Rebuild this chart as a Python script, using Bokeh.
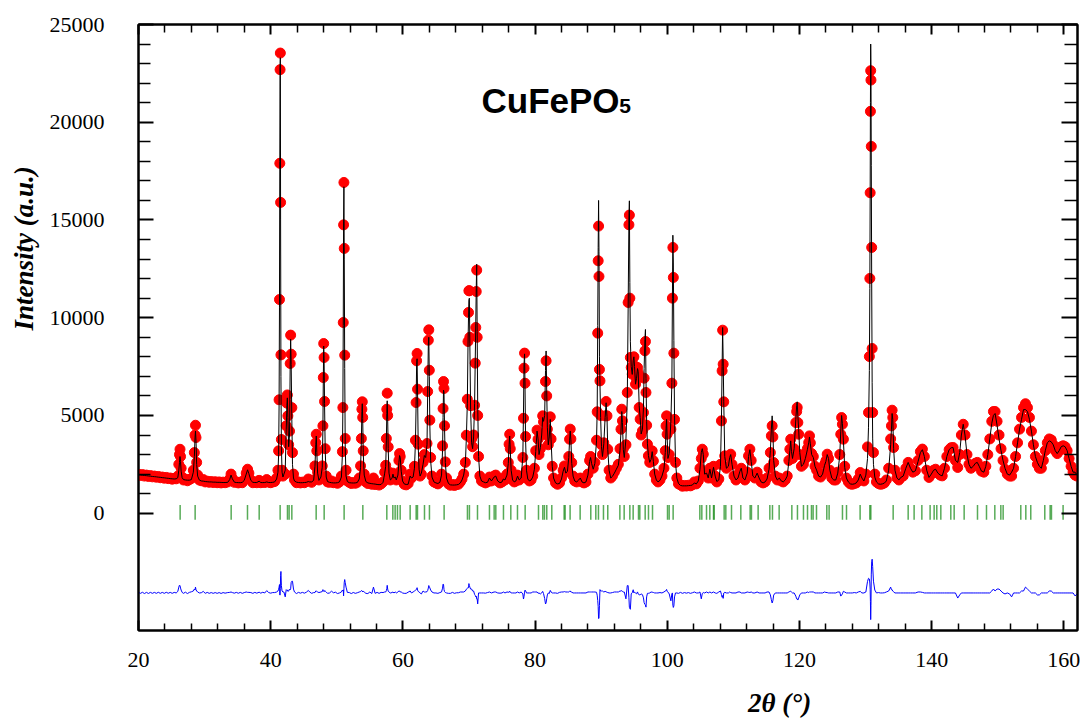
import numpy as np
from bokeh.plotting import figure
from bokeh.models import LinearAxis, FixedTicker, Range1d, Label, Title, CustomLabelingPolicy
from bokeh.embed import file_html
from bokeh.resources import INLINE

# ---- data: (2theta, I_obs, I_calc) ----
scan_20_55 = [
    (20.0, 1990, 1960), (20.3, 1930, 1950), (20.6, 1975, 1940), (20.9, 1900, 1930), (21.2, 1950, 1920),
    (21.5, 1880, 1905), (21.8, 1925, 1895), (22.1, 1860, 1880), (22.4, 1900, 1870), (22.7, 1840, 1860),
    (23.0, 1880, 1845), (23.3, 1815, 1835), (23.6, 1850, 1820), (23.9, 1790, 1810), (24.2, 1830, 1795),
    (24.5, 1770, 1785), (24.8, 1800, 1770), (25.1, 1740, 1760), (25.4, 1780, 1750), (25.7, 1760, 1760),
    (25.95, 1900, 1820), (26.1, 2500, 2200), (26.2, 3000, 2600), (26.28, 3270, 2900), (26.36, 2900, 2650),
    (26.45, 2300, 2150), (26.6, 1850, 1820), (26.8, 1700, 1720), (27.1, 1740, 1700), (27.4, 1660, 1690),
    (27.7, 1720, 1690), (28.0, 1780, 1720), (28.3, 2200, 2100), (28.45, 3100, 2900), (28.55, 4000, 3850),
    (28.62, 4500, 4200), (28.7, 3870, 3700), (28.8, 2600, 2500), (28.95, 1950, 1900), (29.2, 1700, 1700),
    (29.5, 1660, 1650), (29.8, 1720, 1640), (30.1, 1600, 1620), (30.4, 1640, 1610), (30.7, 1580, 1600),
    (31.0, 1620, 1600), (31.3, 1570, 1590), (31.6, 1610, 1590), (31.9, 1560, 1580), (32.2, 1600, 1580),
    (32.5, 1550, 1575), (32.8, 1590, 1570), (33.1, 1560, 1570), (33.5, 1600, 1580), (33.8, 1750, 1720),
    (34.0, 2000, 1950), (34.2, 1780, 1760), (34.5, 1580, 1590), (34.8, 1600, 1570), (35.1, 1550, 1565),
    (35.4, 1590, 1560), (35.7, 1560, 1580), (36.0, 1700, 1680), (36.3, 2050, 2000), (36.5, 2250, 2220),
    (36.7, 2050, 2020), (37.0, 1700, 1680), (37.3, 1560, 1580), (37.6, 1600, 1570), (37.9, 1560, 1570),
    (38.25, 1680, 1640), (38.5, 1560, 1570), (38.8, 1600, 1565), (39.1, 1570, 1570), (39.4, 1720, 1600),
    (39.7, 1590, 1570), (40.0, 1560, 1570), (40.3, 1600, 1580), (40.6, 1620, 1600), (40.9, 1800, 1750),
    (41.1, 2200, 2100), (41.2, 3190, 3000), (41.27, 5800, 5500), (41.33, 10930, 10500), (41.38, 17900, 18000),
    (41.42, 22690, 22800), (41.46, 23540, 23300), (41.5, 15900, 15000), (41.55, 8100, 7000), (41.62, 3770, 3400),
    (41.72, 2200, 2100), (41.85, 1900, 1850), (42.0, 2050, 2000), (42.2, 2000, 2200), (42.35, 4470, 4300),
    (42.45, 5630, 5500), (42.52, 6050, 5900), (42.6, 4980, 4900), (42.72, 3500, 3400), (42.85, 4200, 4000),
    (42.95, 7660, 7500), (43.02, 9110, 8900), (43.1, 8135, 7600), (43.2, 5400, 4800), (43.3, 3100, 2500),
    (43.45, 2000, 1800), (43.6, 1700, 1650), (43.9, 1560, 1590), (44.2, 1600, 1570), (44.5, 1550, 1560),
    (44.8, 1590, 1560), (45.1, 1560, 1570), (45.4, 1620, 1580), (45.7, 1750, 1620), (45.9, 1650, 1600),
    (46.2, 1580, 1600), (46.5, 1700, 1680), (46.7, 2420, 2400), (46.82, 3600, 3500), (46.9, 4040, 3950),
    (46.98, 3190, 3100), (47.1, 2100, 2050), (47.3, 1700, 1680), (47.6, 1900, 1850), (47.8, 2420, 2350),
    (47.9, 4470, 4300), (47.96, 6940, 6800), (48.02, 8680, 8550), (48.08, 7965, 7900), (48.15, 5715, 5600),
    (48.25, 3300, 3200), (48.4, 1900, 1850), (48.6, 1600, 1620), (48.9, 1580, 1580), (49.2, 1650, 1560),
    (49.5, 1560, 1550), (49.8, 1590, 1550), (50.1, 1530, 1560), (50.4, 1600, 1600), (50.7, 1900, 1850),
    (50.85, 3150, 3000), (50.92, 5405, 5300), (50.98, 9755, 9600), (51.03, 14750, 14900), (51.08, 16920, 16700),
    (51.13, 13545, 13000), (51.2, 8085, 7400), (51.28, 3820, 3300), (51.4, 2200, 1900), (51.6, 1650, 1620),
    (51.9, 1580, 1560), (52.2, 1520, 1550), (52.5, 1570, 1545), (52.8, 1530, 1550), (53.1, 1580, 1570),
    (53.4, 1800, 1750), (53.6, 2420, 2350), (53.72, 3820, 3700), (53.8, 5320, 5200), (53.86, 5700, 5600),
    (53.92, 4900, 4850), (54.0, 3190, 3100), (54.15, 2000, 1950), (54.4, 1600, 1620), (54.7, 1520, 1550),
]

scan_55_91 = [
    (55.0, 1580, 1530), (55.3, 1480, 1510), (55.55, 1800, 1500), (55.8, 1470, 1490), (56.1, 1500, 1470),
    (56.4, 1440, 1460), (56.7, 1500, 1470), (57.0, 1600, 1580), (57.25, 2100, 2050), (57.4, 2450, 2400),
    (57.5, 3820, 3700), (57.57, 5320, 5100), (57.63, 6140, 5750), (57.7, 5000, 4800), (57.78, 3390, 3300),
    (57.9, 2100, 2050), (58.1, 1700, 1700), (58.35, 1800, 1780), (58.5, 2050, 2000), (58.65, 1800, 1800),
    (58.85, 1900, 1850), (59.0, 1700, 1700), (59.25, 2000, 1950), (59.4, 2700, 2600), (59.5, 3050, 2950),
    (59.6, 2900, 2850), (59.75, 2200, 2150), (59.95, 1650, 1650), (60.2, 1480, 1500), (60.5, 1450, 1470),
    (60.8, 1520, 1480), (61.1, 2000, 1900), (61.3, 1800, 1800), (61.55, 1900, 1850), (61.75, 2400, 2300),
    (61.9, 3735, 3600), (62.0, 5660, 5500), (62.08, 7795, 7600), (62.15, 8170, 7900), (62.22, 6345, 6200),
    (62.32, 3530, 3450), (62.45, 2300, 2250), (62.6, 1900, 1900), (62.8, 2000, 2050), (63.05, 2600, 2500),
    (63.25, 3000, 2950), (63.45, 2900, 2850), (63.65, 3565, 3500), (63.75, 6225, 6100), (63.85, 8850, 8600),
    (63.92, 9380, 9000), (64.0, 7315, 7000), (64.08, 4760, 4500), (64.2, 2850, 2700), (64.4, 1900, 1850),
    (64.7, 1600, 1600), (65.0, 1550, 1550), (65.3, 1500, 1520), (65.6, 1600, 1580), (65.85, 2000, 1950),
    (66.0, 3445, 3200), (66.08, 5355, 4900), (66.15, 6737, 6300), (66.22, 6380, 6200), (66.3, 4470, 4400),
    (66.42, 2625, 2600), (66.6, 1800, 1800), (66.9, 1500, 1520), (67.2, 1430, 1450), (67.5, 1470, 1440),
    (67.8, 1420, 1440), (68.1, 1460, 1450), (68.4, 1480, 1470), (68.7, 1600, 1550), (68.95, 1750, 1700),
    (69.2, 2000, 1950), (69.45, 2600, 2500), (69.6, 3990, 3800), (69.75, 5830, 5600), (69.85, 8785, 8500),
    (69.93, 10270, 10000), (69.99, 11380, 10900), (70.06, 11380, 11000), (70.13, 9000, 8700), (70.25, 5500, 5300),
    (70.4, 3800, 3600), (70.55, 3400, 3300), (70.7, 4000, 3900), (70.85, 5526, 5600), (70.95, 7676, 7800),
    (71.03, 9500, 9700), (71.1, 11340, 11500), (71.17, 12435, 12740), (71.24, 9000, 9300), (71.32, 5000, 5560),
    (71.45, 2900, 2900), (71.65, 1900, 1900), (71.9, 1650, 1650), (72.2, 1600, 1600), (72.5, 1550, 1560),
    (72.8, 1600, 1580), (73.1, 1850, 1800), (73.4, 1650, 1650), (73.8, 1900, 1850), (74.05, 1950, 1900),
    (74.35, 1650, 1650), (74.7, 1550, 1560), (75.0, 1600, 1600), (75.2, 1800, 1750), (75.45, 1700, 1700),
    (75.75, 2000, 1950), (75.95, 2590, 2550), (76.07, 3530, 3500), (76.16, 4040, 3950), (76.25, 3300, 3250),
    (76.38, 2200, 2200), (76.6, 1700, 1700), (76.85, 1600, 1600), (77.1, 1650, 1650), (77.35, 1950, 1900),
    (77.6, 1700, 1700), (77.9, 1850, 1800), (78.15, 2850, 2900), (78.25, 4860, 5170), (78.33, 7420, 7600),
    (78.41, 8190, 8150), (78.48, 6650, 6500), (78.56, 3920, 3800), (78.7, 2200, 2200), (78.9, 1750, 1750),
    (79.15, 1650, 1650), (79.4, 1700, 1700), (79.65, 1900, 1850), (79.9, 2300, 2250), (80.1, 3200, 3150),
    (80.3, 4250, 4200), (80.45, 3785, 3800), (80.6, 3000, 3000), (80.8, 3300, 3350), (81.0, 4000, 4000),
    (81.15, 4980, 4900), (81.28, 4670, 4700), (81.45, 4720, 5000), (81.58, 6737, 7300), (81.67, 7795, 8300),
    (81.76, 6000, 6300), (81.86, 4300, 4400), (82.0, 3500, 3500), (82.15, 3870, 3900), (82.3, 4930, 4800),
    (82.42, 3800, 3750), (82.6, 2400, 2400), (82.8, 1800, 1800), (83.1, 1550, 1550), (83.4, 1480, 1500),
    (83.7, 1550, 1520), (84.0, 1800, 1750), (84.25, 2200, 2150), (84.45, 2420, 2350), (84.65, 2100, 2050),
    (84.9, 2200, 2150), (85.1, 2900, 2850), (85.22, 3785, 3700), (85.32, 4300, 4200), (85.42, 3800, 3750),
    (85.55, 2590, 2550), (85.75, 1900, 1900), (86.0, 1650, 1650), (86.3, 1600, 1600), (86.6, 1700, 1700),
    (86.85, 1800, 1800), (87.1, 1600, 1600), (87.4, 1550, 1550), (87.7, 1600, 1600), (88.0, 2000, 1950),
    (88.25, 2700, 2650), (88.4, 2900, 2850), (88.55, 2600, 2550), (88.8, 2300, 2250), (89.05, 2600, 2550),
    (89.3, 3735, 3700), (89.4, 5185, 5300), (89.48, 9211, 9600), (89.55, 12913, 13600), (89.61, 14688, 16000),
    (89.67, 12111, 13400), (89.74, 7352, 8000), (89.82, 6771, 6600), (89.92, 5000, 4900), (90.05, 3500, 3400),
    (90.2, 3000, 2900), (90.4, 3600, 3550), (90.6, 4980, 4900), (90.75, 5714, 5650), (90.88, 4980, 4950),
    (91.0, 3274, 3250), (91.2, 2200, 2200),
]

scan_91_130 = [
    (91.45, 1800, 1800), (91.7, 1900, 1880), (92.0, 2100, 2050), (92.3, 2300, 2250), (92.6, 2500, 2450),
    (92.85, 3300, 3200), (93.0, 4297, 4200), (93.12, 5321, 5200), (93.22, 4724, 4650), (93.35, 3300, 3250),
    (93.5, 2900, 2850), (93.75, 3500, 3800), (93.95, 6175, 5800), (94.08, 10780, 10400), (94.2, 14755, 15000),
    (94.27, 15250, 15980), (94.34, 11000, 11800), (94.42, 7965, 8800), (94.55, 7454, 7500), (94.7, 7112, 7100),
    (94.85, 7965, 7800), (94.95, 8000, 8000), (95.05, 7538, 7500), (95.2, 6600, 6600), (95.35, 6857, 6900),
    (95.5, 7454, 7400), (95.6, 7200, 7250), (95.75, 5406, 5500), (95.9, 4810, 4900), (96.05, 4000, 4050),
    (96.25, 4212, 4300), (96.4, 5150, 5400), (96.5, 6908, 7400), (96.62, 8307, 8900), (96.7, 8785, 9400),
    (96.78, 6175, 6900), (96.88, 4500, 4700), (97.0, 3530, 3550), (97.15, 2933, 2950), (97.35, 2600, 2600),
    (97.55, 2800, 2750), (97.72, 3190, 3150), (97.9, 2676, 2650), (98.1, 2000, 2000), (98.35, 1700, 1700),
    (98.6, 1600, 1600), (98.9, 1700, 1680), (99.2, 1900, 1900), (99.5, 2300, 2250), (99.7, 3200, 3100),
    (99.82, 4468, 4350), (99.9, 4980, 4800), (99.98, 4040, 3950), (100.1, 2848, 2800), (100.3, 3000, 3050),
    (100.55, 4297, 4700), (100.7, 6652, 6700), (100.78, 11002, 11000), (100.85, 13595, 14220), (100.92, 12060, 12800),
    (101.0, 8187, 8850), (101.1, 4800, 5000), (101.25, 2600, 2600), (101.45, 1800, 1800), (101.7, 1500, 1520),
    (102.0, 1450, 1420), (102.3, 1380, 1400), (102.6, 1420, 1400), (102.9, 1390, 1400), (103.2, 1430, 1410),
    (103.5, 1400, 1420), (103.8, 1450, 1440), (104.1, 1600, 1550), (104.4, 1500, 1500), (104.7, 1650, 1650),
    (104.95, 2300, 2250), (105.15, 2800, 3100), (105.3, 3274, 3300), (105.45, 3020, 3000), (105.65, 2000, 2000),
    (105.95, 2100, 2050), (106.2, 1800, 1800), (106.45, 2300, 2250), (106.7, 1800, 1800), (107.0, 2400, 2350),
    (107.25, 1900, 1900), (107.5, 1600, 1620), (107.8, 1750, 1700), (108.05, 2500, 2400), (108.2, 4724, 4800),
    (108.3, 7283, 7500), (108.38, 9364, 9500), (108.46, 7624, 7900), (108.55, 5697, 5700), (108.7, 2933, 2900),
    (108.95, 2300, 2300), (109.25, 2400, 2400), (109.45, 2900, 2850), (109.6, 3020, 3000), (109.8, 2500, 2500),
    (110.1, 1900, 1900), (110.4, 1700, 1700), (110.7, 1850, 1800), (111.0, 2200, 2150), (111.2, 2300, 2300),
    (111.45, 1800, 1800), (111.75, 1700, 1700), (112.1, 2100, 2050), (112.3, 2933, 2900), (112.5, 3274, 3250),
    (112.7, 2700, 2650), (112.95, 1900, 1900), (113.25, 1800, 1800), (113.6, 2100, 2050), (113.9, 1800, 1800),
    (114.2, 1600, 1600), (114.5, 1550, 1550), (114.8, 1600, 1600), (115.1, 1800, 1750), (115.4, 2300, 2250),
    (115.6, 3103, 3200), (115.75, 3956, 4300), (115.87, 4468, 4980), (115.98, 3900, 4300), (116.1, 2592, 2700),
    (116.35, 1900, 1900), (116.65, 1700, 1700), (116.95, 1800, 1800), (117.25, 1650, 1650), (117.55, 1600, 1600),
    (117.85, 1700, 1700), (118.15, 1900, 1900), (118.4, 2700, 2650), (118.55, 3274, 3200), (118.68, 3786, 3700),
    (118.8, 3200, 3150), (118.95, 2800, 2800), (119.2, 3300, 3300), (119.45, 4638, 4800), (119.58, 5200, 5500),
    (119.66, 5406, 5700), (119.76, 4638, 5000), (119.88, 4040, 4300), (120.05, 3000, 3100), (120.3, 2400, 2400),
    (120.6, 2500, 2500), (120.9, 2800, 2800), (121.2, 3300, 3250), (121.4, 3615, 3600), (121.52, 3956, 3900),
    (121.65, 3600, 3550), (121.85, 3052, 3000), (122.1, 2900, 2850), (122.35, 2400, 2400), (122.6, 2200, 2200),
    (122.9, 1900, 1900), (123.2, 1850, 1850), (123.5, 2000, 2000), (123.8, 2500, 2450), (124.0, 2676, 2650),
    (124.2, 3020, 3000), (124.4, 2800, 2800), (124.6, 2200, 2200), (124.9, 1800, 1800), (125.2, 1700, 1700),
    (125.5, 1700, 1700), (125.8, 2100, 2050), (126.1, 3000, 2950), (126.25, 4040, 4200), (126.38, 4894, 5000),
    (126.5, 4553, 4600), (126.65, 3786, 3700), (126.85, 2400, 2350), (127.1, 1800, 1800), (127.4, 1600, 1600),
    (127.7, 1500, 1500), (128.0, 1480, 1480), (128.3, 1520, 1500), (128.6, 1550, 1550), (128.9, 1750, 1700),
    (129.2, 2080, 2000), (129.45, 1800, 1800), (129.75, 1650, 1650), (130.05, 2000, 1950), (130.3, 3393, 2800),
]

scan_130_162 = [
    (130.45, 5150, 4400), (130.58, 8016, 7300), (130.65, 12009, 11500), (130.7, 16393, 16200), (130.74, 20556, 21000),
    (130.78, 22637, 24000), (130.82, 22159, 22800), (130.87, 18764, 17800), (130.93, 13595, 12000), (131.0, 8426, 6700),
    (131.08, 5150, 3800), (131.2, 3103, 2500), (131.4, 2000, 1850), (131.65, 1600, 1600), (131.95, 1520, 1500),
    (132.25, 1480, 1480), (132.55, 1500, 1500), (132.85, 1550, 1540), (133.15, 1700, 1650), (133.5, 2300, 2200),
    (133.8, 3800, 3500), (133.92, 4468, 4300), (134.02, 5270, 5100), (134.12, 4894, 4800), (134.25, 3360, 3300),
    (134.45, 2200, 2200), (134.75, 1800, 1800), (135.05, 1700, 1700), (135.3, 1820, 1820), (135.7, 1900, 1900),
    (136.1, 2300, 2300), (136.45, 2600, 2600), (136.8, 2300, 2300), (137.15, 2100, 2100), (137.55, 2170, 2170),
    (137.95, 2700, 2650), (138.3, 3150, 3100), (138.6, 3280, 3250), (138.9, 2900, 2900), (139.25, 2200, 2200),
    (139.6, 1830, 1830), (139.95, 2000, 2000), (140.3, 2200, 2200), (140.6, 2250, 2250), (140.95, 2050, 2050),
    (141.3, 1950, 1950), (141.6, 1910, 1910), (141.95, 2300, 2300), (142.3, 2900, 2900), (142.65, 3250, 3250),
    (142.95, 3350, 3350), (143.25, 3360, 3360), (143.6, 2700, 2700), (143.95, 2340, 2600), (144.25, 3000, 3100),
    (144.5, 4000, 4000), (144.78, 4550, 4550), (145.05, 4000, 4000), (145.35, 3000, 3000), (145.65, 2500, 2500),
    (145.95, 2300, 2300), (146.3, 2400, 2400), (146.6, 2550, 2550), (146.9, 2600, 2600), (147.2, 2400, 2400),
    (147.55, 2150, 2150), (147.9, 2100, 2100), (148.2, 2400, 2400), (148.5, 3000, 3000), (148.8, 3800, 3800),
    (149.1, 4700, 4600), (149.35, 5200, 5000), (149.6, 5200, 5100), (149.9, 4700, 4500), (150.2, 4000, 3800),
    (150.5, 3300, 3200), (150.8, 2700, 2700), (151.1, 2250, 2300), (151.45, 2000, 2000), (151.8, 1900, 1950),
    (152.1, 1900, 2100), (152.4, 2300, 2300), (152.7, 2900, 2900), (153.0, 3600, 3600), (153.3, 4300, 4300),
    (153.6, 4900, 4800), (153.9, 5400, 5300), (154.2, 5600, 5300), (154.5, 5400, 5200), (154.8, 4900, 4800),
    (155.1, 4200, 4200), (155.4, 3500, 3500), (155.7, 2900, 2900), (156.0, 2500, 2600), (156.3, 2300, 2400),
    (156.6, 2300, 2300), (156.9, 2700, 2700), (157.2, 3200, 3200), (157.5, 3600, 3600), (157.8, 3800, 3700),
    (158.1, 3750, 3650), (158.4, 3500, 3500), (158.7, 3200, 3200), (159.0, 3050, 3050), (159.3, 3200, 3200),
    (159.6, 3400, 3400), (159.9, 3450, 3450), (160.2, 3400, 3400), (160.5, 3200, 3200), (160.8, 2800, 2800),
    (161.1, 2400, 2400), (161.4, 2100, 2100), (161.7, 1950, 2100), (162.0, 1900, 1950),
]

# Bragg reflection positions (2theta)
bragg_positions = [
    26.30, 28.57, 34.02, 36.49, 38.26, 41.43, 42.54, 42.79, 43.20, 46.88, 48.09, 51.11, 53.94,
    57.57, 58.48, 58.83, 59.18, 59.59, 61.10, 62.01, 62.21, 63.27, 64.02, 66.24, 69.77, 70.07,
    71.29, 73.10, 73.81, 74.06, 75.22, 76.33, 77.34, 78.50, 80.52, 81.17, 81.42, 81.77, 82.53,
    84.40, 84.55, 85.30, 86.82, 88.43, 89.19, 89.59, 90.35, 91.00, 92.83, 93.48, 94.34, 94.84,
    95.65, 95.85, 96.66, 97.16, 97.77, 100.04, 100.29, 100.89, 104.93, 105.23, 105.94, 106.44,
    107.00, 107.10, 108.61, 108.86, 109.72, 111.13, 112.54, 112.74, 113.75, 115.52, 115.92,
    116.93, 118.85, 119.70, 120.61, 121.22, 121.82, 122.07, 122.58, 124.14, 124.49, 126.51,
    127.12, 129.18, 130.65, 130.80, 134.18, 136.45, 137.35, 138.52, 139.77, 140.38, 140.78,
    141.39, 142.90, 143.41, 144.92, 146.94, 148.30, 149.56, 150.47, 150.82, 153.49, 154.25,
    155.00, 157.12, 157.93, 158.13, 159.89,
]

diff_offset = -4080          # baseline of the Yobs - Ycalc curve
bragg_bar = (-330, 420)      # vertical extent of the reflection markers

x_major = [20, 40, 60, 80, 100, 120, 140, 160]
y_major = [0, 5000, 10000, 15000, 20000, 25000]
x_title = "2θ (°)"
y_title = "Intensity (a.u.)"
x_title_at = 117.0           # 2theta under which the x title is centred (as in the original figure)

# ---- build arrays ----
rows = scan_20_55 + scan_55_91 + scan_91_130 + scan_130_162
tth = np.array([r[0] for r in rows])
i_obs = np.array([r[1] for r in rows])
i_calc = np.array([r[2] for r in rows])
i_diff = i_obs - i_calc + diff_offset

x_minor = [v for v in range(20, 163, 4) if v not in x_major]
y_minor = [v for v in range(0, 25001, 1000) if v not in y_major]

p = figure(width=1080, height=720, x_range=Range1d(20, 162.07), y_range=Range1d(-6000, 25000),
           output_backend="svg", toolbar_location=None,
           min_border_left=138, min_border_right=3, min_border_top=24, min_border_bottom=90)
p.grid.visible = False
p.background_fill_color = "white"
p.border_fill_color = "white"
p.outline_line_color = "black"
p.outline_line_width = 2

no_labels = CustomLabelingPolicy(code="""
    for (let i = 0; i < indices.size; i++) {
        indices.unset(i)
    }
    return indices
""")


def style_axis(ax, ticks, minor, t_in, m_in, labels=True, standoff=5):
    ax.ticker = FixedTicker(ticks=ticks, minor_ticks=minor)
    ax.major_tick_in = t_in
    ax.major_tick_out = 0
    ax.minor_tick_in = m_in
    ax.minor_tick_out = 0
    ax.axis_line_width = 2
    ax.axis_line_color = "black"
    ax.major_tick_line_width = 2
    ax.major_tick_line_color = "black"
    ax.minor_tick_line_width = 1.5
    ax.minor_tick_line_color = "black"
    ax.major_label_text_font = "Liberation Serif"
    ax.major_label_text_color = "black"
    ax.major_label_text_font_size = "22px"
    if labels:
        ax.major_label_standoff = standoff
    else:
        ax.major_label_overrides = {t: "" for t in ticks}
        ax.major_label_policy = no_labels
        ax.major_label_standoff = 0


style_axis(p.xaxis[0], x_major, x_minor, 10, 7, True, 22)
style_axis(p.yaxis[0], y_major, y_minor, 15, 12, True, 34)

top_ax = LinearAxis()
style_axis(top_ax, x_major, x_minor, 10, 8, False)
p.add_layout(top_ax, "above")
right_ax = LinearAxis()
style_axis(right_ax, y_major, y_minor, 16, 13, False)
p.add_layout(right_ax, "right")

# x title: carried by an invisible axis with a single labelled tick
x_title_axis = LinearAxis(ticker=FixedTicker(ticks=[x_title_at]),
                          major_label_overrides={x_title_at: x_title},
                          axis_line_color=None, major_tick_line_color=None, minor_tick_line_color=None,
                          major_tick_in=0, major_tick_out=0, minor_tick_in=0, minor_tick_out=0,
                          major_label_standoff=18, major_label_text_font="Liberation Serif",
                          major_label_text_font_style="bold italic", major_label_text_font_size="27px",
                          major_label_text_color="black")
p.add_layout(x_title_axis, "below")

# y title
p.add_layout(Title(text=y_title, align="left", offset=300, standoff=12, vertical_align="top",
                   text_font="Liberation Serif", text_font_style="bold italic",
                   text_font_size="27px", text_color="black"), "left")

# observed points
p.scatter(tth, i_obs, size=10, marker="circle", fill_color="#ff0000", line_color="#ff0000")
# calculated profile
p.line(tth, i_calc, line_color="black", line_width=1)
# Bragg positions
n_b = len(bragg_positions)
p.segment(x0=bragg_positions, y0=[bragg_bar[0]] * n_b, x1=bragg_positions, y1=[bragg_bar[1]] * n_b,
          line_color="#118811", line_width=1.5, line_alpha=0.7)
# difference
p.line(tth, i_diff, line_color="#0000ff", line_width=1)

# title with subscript
p.add_layout(Label(x=71.9, y=21100, text="CuFePO", text_font="Liberation Sans", text_font_style="bold",
                   text_font_size="35px", text_color="black", text_baseline="alphabetic", text_align="left"))
p.add_layout(Label(x=92.75, y=20845, text="5", text_font="Liberation Sans", text_font_style="bold",
                   text_font_size="21px", text_color="black", text_baseline="alphabetic", text_align="left"))

open("out.html", "w").write(file_html(p, INLINE))
